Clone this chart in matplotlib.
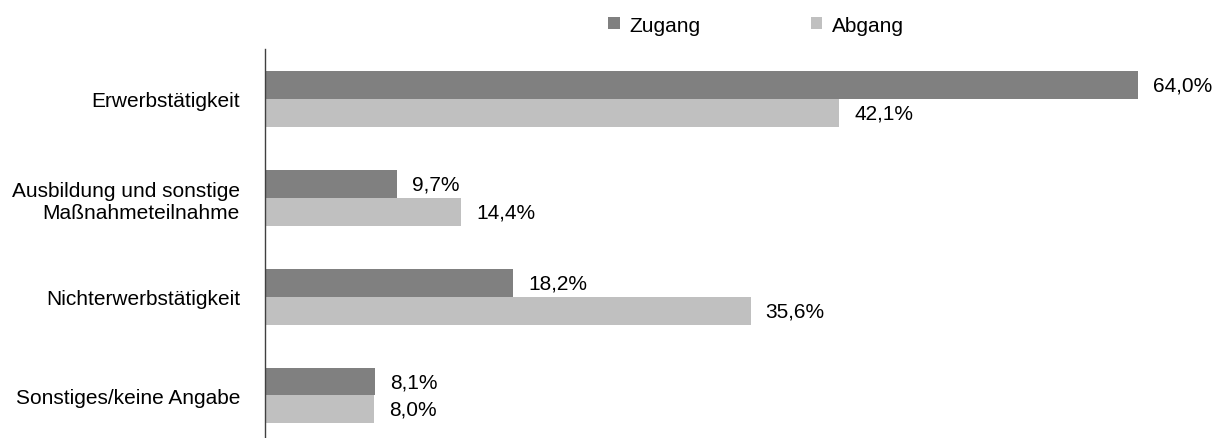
import matplotlib
matplotlib.use("Agg")
import matplotlib.pyplot as plt
import numpy as np

plt.rcParams['font.family'] = ['Liberation Sans', 'DejaVu Sans']

categories = ["Erwerbstätigkeit", "Ausbildung und sonstige\nMaßnahmeteilnahme",
              "Nichterwerbstätigkeit", "Sonstiges/keine Angabe"]
zugang = [64.0, 9.7, 18.2, 8.1]
abgang = [42.1, 14.4, 35.6, 8.0]
series_names = ["Zugang", "Abgang"]
colors = ["#808080", "#c0c0c0"]

W, H = 1222, 439
fs = 15
fig = plt.figure(figsize=(W/100, H/100), dpi=100)
ax = fig.add_axes([265/W, 0, (1200-265)/W, 1 - 50/H])

y = np.arange(len(categories))
h = 0.283
ax.barh(y - h/2, zugang, height=h, color=colors[0], label=series_names[0])
ax.barh(y + h/2, abgang, height=h, color=colors[1], label=series_names[1])

px = 13.64  # pixels per percent
ax.set_xlim(0, (1200-265)/px)
ax.set_ylim(3.43, -0.505)

def fmt(v):
    return f"{v:.1f}%".replace(".", ",")

for i in range(len(categories)):
    ax.text(zugang[i] + 15/px, y[i] - h/2, fmt(zugang[i]), va="center", ha="left", fontsize=fs)
    ax.text(abgang[i] + 15/px, y[i] + h/2, fmt(abgang[i]), va="center", ha="left", fontsize=fs)

ax.set_yticks(y)
ax.set_yticklabels(categories, fontsize=fs, ha="right")
ax.tick_params(axis="y", length=0, pad=18)
ax.set_xticks([])
for s in ["top", "right", "bottom"]:
    ax.spines[s].set_visible(False)
ax.spines["left"].set_color("#404040")
ax.spines["left"].set_linewidth(1)

leg = fig.legend(loc="center", bbox_to_anchor=(756/W, 1 - 26/H), ncol=2, frameon=False,
                 fontsize=fs, handlelength=0.55, handleheight=0.55, handletextpad=0.45,
                 columnspacing=5.3)

fig.savefig("out.png", dpi=100)
